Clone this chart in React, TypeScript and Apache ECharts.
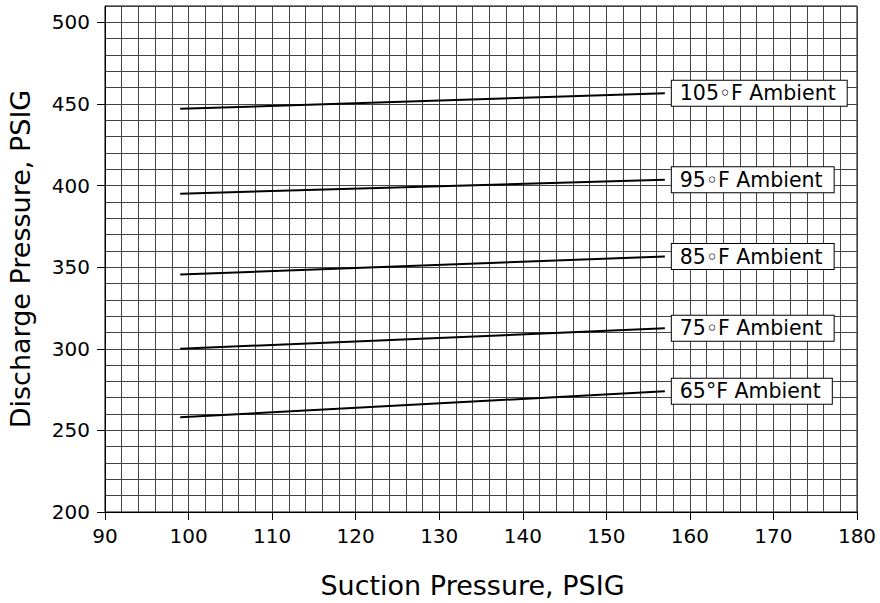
import React, { useEffect, useRef } from "react";
import * as echarts from "echarts";

const xRange = [99, 157];
const names = ["105◦F Ambient", "95◦F Ambient", "85◦F Ambient", "75◦F Ambient", "65°F Ambient"];
const line105 = [447, 456.5];
const line95 = [395, 403.5];
const line85 = [345.5, 356.5];
const line75 = [300, 312.5];
const line65 = [258, 274];
const xTicks = [90, 100, 110, 120, 130, 140, 150, 160, 170, 180];
const yTicks = [200, 250, 300, 350, 400, 450, 500];

const FONT = "DejaVu Sans";

export default function App() {
  const ref = useRef<HTMLDivElement>(null);
  useEffect(() => {
    if (!ref.current) return;
    const chart = echarts.init(ref.current, null, { renderer: "svg" });
    const allLines = [line105, line95, line85, line75, line65];
    const series = allLines.map((vals, i) => ({
      type: "line",
      name: names[i],
      xAxisIndex: 0,
      yAxisIndex: 0,
      data: vals.map((v, j) => [xRange[j], v]),
      showSymbol: false,
      symbol: "none",
      lineStyle: { color: "#000", width: 2 },
      itemStyle: { color: "#000" },
      endLabel: {
        show: true,
        formatter: names[i],
        distance: 7,
        color: "#000",
        fontFamily: FONT,
        fontSize: 20.5,
        backgroundColor: "#fff",
        borderColor: "#000",
        borderWidth: 1,
        padding: [2, 11, 2, 8],
      },
    }));
    const gridLine = { show: true, lineStyle: { color: "#444", width: 1 } };
    chart.setOption({
      animation: false,
      backgroundColor: "#fff",
      grid: {
        left: 105,
        right: 23,
        top: 6,
        bottom: 91,
        show: true,
        borderColor: "#000",
        borderWidth: 1,
        containLabel: false,
        outerBoundsMode: "none",
      },
      xAxis: [
        {
          type: "value",
          min: 90,
          max: 180,
          interval: 10,
          name: "Suction Pressure, PSIG",
          nameLocation: "middle",
          nameGap: 60,
          nameTextStyle: { fontFamily: FONT, fontSize: 27, color: "#000", padding: [0, 17, 0, 0] },
          axisLine: { show: true, lineStyle: { color: "#000", width: 1 } },
          axisTick: { show: true, customValues: xTicks, length: 8, lineStyle: { color: "#000" } },
          axisLabel: { customValues: xTicks, fontFamily: FONT, fontSize: 20, color: "#000", margin: 14 },
          splitLine: { show: false },
          z: 3,
        },
        {
          type: "value",
          min: 90,
          max: 180,
          interval: 2,
          position: "bottom",
          axisLine: { show: false },
          axisTick: { show: false },
          axisLabel: { show: false },
          splitLine: gridLine,
        },
      ],
      yAxis: [
        {
          type: "value",
          min: 200,
          max: 510,
          interval: 50,
          name: "Discharge Pressure, PSIG",
          nameLocation: "middle",
          nameGap: 71,
          nameTextStyle: { fontFamily: FONT, fontSize: 27, color: "#000" },
          axisLine: { show: true, lineStyle: { color: "#000", width: 1 } },
          axisTick: { show: true, customValues: yTicks, length: 8, lineStyle: { color: "#000" } },
          axisLabel: { customValues: yTicks, fontFamily: FONT, fontSize: 20, color: "#000", margin: 15 },
          splitLine: { show: false },
          z: 3,
        },
        {
          type: "value",
          min: 200,
          max: 510,
          interval: 10,
          position: "left",
          axisLine: { show: false },
          axisTick: { show: false },
          axisLabel: { show: false },
          splitLine: gridLine,
        },
      ],
      series,
    });
    return () => chart.dispose();
  }, []);
  return <div ref={ref} style={{ width: 880, height: 603, position: "absolute", left: 0, top: 0 }} />;
}
